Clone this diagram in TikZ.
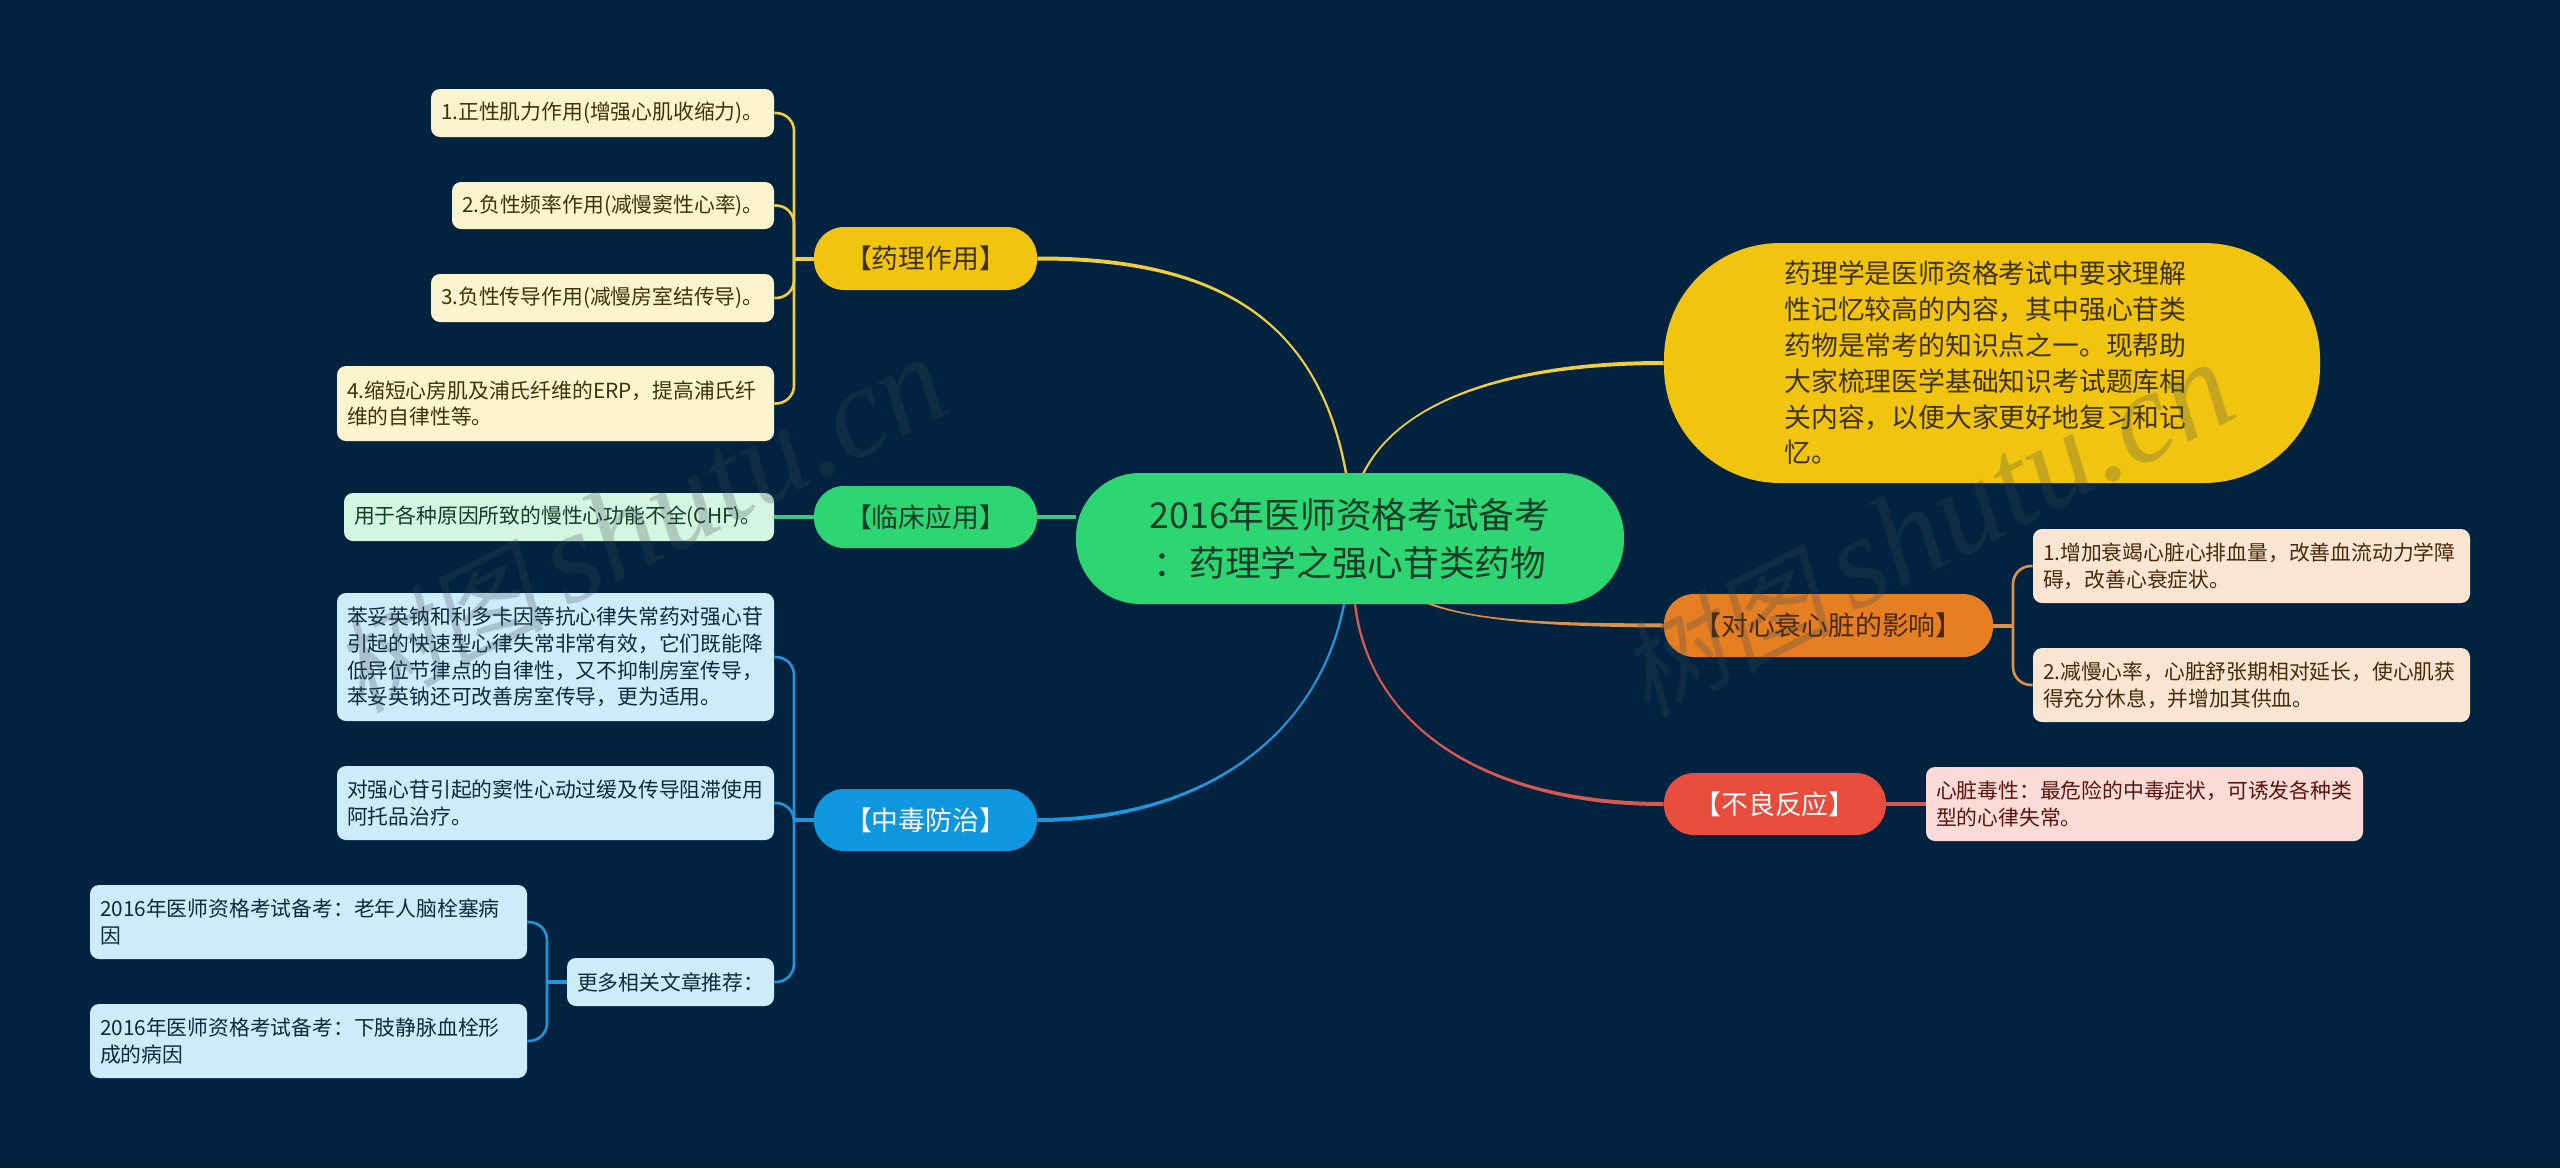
\documentclass[tikz,border=0pt]{standalone}
\usepackage{fontspec}
\setmainfont{Noto Sans CJK SC}
\newfontfamily\wmcjk[FakeSlant=0.2]{Noto Sans CJK SC}
\newfontfamily\wmlat{Liberation Serif}[Ligatures=TeX]
\definecolor{bgc}{HTML}{012340}
\definecolor{wmc}{HTML}{3A4A52}
\definecolor{ycol}{HTML}{F1C40F}\definecolor{yline}{HTML}{F0CE3E}\definecolor{ybox}{HTML}{FCF3CF}\definecolor{ytxt}{HTML}{3E3208}
\definecolor{gcol}{HTML}{2ED573}\definecolor{gline}{HTML}{3CC77F}\definecolor{gbox}{HTML}{D5F5E3}\definecolor{gtxt}{HTML}{123D26}
\definecolor{bcol}{HTML}{0E96DE}\definecolor{bline}{HTML}{1E96DA}\definecolor{bbox}{HTML}{CDEBF9}\definecolor{btxt}{HTML}{0B2A3E}
\definecolor{ocol}{HTML}{E67E22}\definecolor{oline}{HTML}{DE9245}\definecolor{obox}{HTML}{FAE5D3}\definecolor{otxt}{HTML}{47290C}
\definecolor{rcol}{HTML}{E74C3C}\definecolor{rline}{HTML}{D95850}\definecolor{rbox}{HTML}{FADBD8}\definecolor{rtxt}{HTML}{5A140D}
\newcommand{\mmbox}[7]{%
  \pgfmathsetmacro\mmw{(#4-#2)*0.5}%
  \pgfmathsetmacro\mmh{(#5-#3)*0.5}%
  \pgfmathsetmacro\mmt{\mmw-2*\mmpad}%
  \node[#6,minimum width=\mmw pt,minimum height=\mmh pt,text width=\mmt pt,inner xsep=\mmpad pt]
    (#1) at ({(#2+#4)/2},{(#3+#5)/2}) {#7};}
\def\mmpad{5}
\newcommand{\taper}[6]{%
  \fill[#1] ([yshift=1pt]#2) .. controls ([yshift=1pt]#3) and ([xshift=#6]#4) .. ([xshift=#6]#5)
    -- ([xshift=-#6]#5) .. controls ([xshift=-#6]#4) and ([yshift=-1pt]#3) .. ([yshift=-1pt]#2) -- cycle;}
\tikzset{
  leaf/.style={rounded corners=4.5pt,inner ysep=0pt,align=left,font=\fontsize{10.4}{13.35}\selectfont},
  pill/.style={rounded corners=15pt,inner ysep=0pt,align=center,font=\fontsize{13.4}{18}\selectfont},
  stub/.style={line width=2pt},
  branch/.style={line width=1.3pt,rounded corners=9pt},
  wmark/.style={rotate=27,text=wmc,opacity=0.25,inner sep=0pt}
}
\begin{document}
\begin{tikzpicture}[x=0.5pt,y=-0.5pt]
\useasboundingbox[fill=bgc] (0,0) rectangle (2560,1168);
\coordinate (tyL) at (794,0);
\coordinate (tyS) at (547,0);
\coordinate (tyR) at (2013,0);
% branch pills
\mmbox{root}{1076}{473}{1624}{604}{pill,fill=gcol,rounded corners=32pt,text=gtxt,font=\fontsize{17.85}{24}\selectfont}{2016年医师资格考试备考\\：药理学之强心苷类药物}
\mmbox{pyao}{814}{227}{1037}{290}{pill,fill=ycol,text=ytxt}{【药理作用】}
\mmbox{plin}{814}{486}{1037}{548}{pill,fill=gcol,text=gtxt}{【临床应用】}
\mmbox{pzho}{814}{789}{1037}{851}{pill,fill=bcol,text=white}{【中毒防治】}
\mmbox{pxin}{1664}{594}{1993}{657}{pill,fill=ocol,text=otxt}{【对心衰心脏的影响】}
\mmbox{pbul}{1664}{773}{1886}{835}{pill,fill=rcol,text=white}{【不良反应】}
\def\mmpad{60.25}
\mmbox{intro}{1664}{243}{2320}{483}{pill,fill=ycol,rounded corners=58pt,text=ytxt,align=left,font=\fontsize{13.4}{17.9}\selectfont}{药理学是医师资格考试中要求理解\\性记忆较高的内容，其中强心苷类\\药物是常考的知识点之一。现帮助\\大家梳理医学基础知识考试题库相\\关内容，以便大家更好地复习和记\\忆。}
\def\mmpad{5}
% leaves
\mmbox{a1}{431}{89}{774}{137}{leaf,fill=ybox,text=ytxt}{1.正性肌力作用(增强心肌收缩力)。}
\mmbox{a2}{452}{182}{774}{229}{leaf,fill=ybox,text=ytxt}{2.负性频率作用(减慢窦性心率)。}
\mmbox{a3}{431}{274}{774}{322}{leaf,fill=ybox,text=ytxt}{3.负性传导作用(减慢房室结传导)。}
\mmbox{a4}{337}{366}{774}{441}{leaf,fill=ybox,text=ytxt}{4.缩短心房肌及浦氏纤维的ERP，提高浦氏纤\\维的自律性等。}
\mmbox{c1}{344}{493}{774}{541}{leaf,fill=gbox,text=gtxt}{用于各种原因所致的慢性心功能不全(CHF)。}
\mmbox{d1}{337}{593}{774}{721}{leaf,fill=bbox,text=btxt}{苯妥英钠和利多卡因等抗心律失常药对强心苷\\引起的快速型心律失常非常有效，它们既能降\\低异位节律点的自律性，又不抑制房室传导，\\苯妥英钠还可改善房室传导，更为适用。}
\mmbox{d2}{337}{766}{774}{840}{leaf,fill=bbox,text=btxt}{对强心苷引起的窦性心动过缓及传导阻滞使用\\阿托品治疗。}
\mmbox{d3}{567}{958}{774}{1006}{leaf,fill=bbox,text=btxt}{更多相关文章推荐：}
\mmbox{e1}{90}{885}{527}{959}{leaf,fill=bbox,text=btxt}{2016年医师资格考试备考：老年人脑栓塞病\\因}
\mmbox{e2}{90}{1004}{527}{1078}{leaf,fill=bbox,text=btxt}{2016年医师资格考试备考：下肢静脉血栓形\\成的病因}
\mmbox{f1}{2033}{529}{2470}{603}{leaf,fill=obox,text=otxt}{1.增加衰竭心脏心排血量，改善血流动力学障\\碍，改善心衰症状。}
\mmbox{f2}{2033}{648}{2470}{722}{leaf,fill=obox,text=otxt}{2.减慢心率，心脏舒张期相对延长，使心肌获\\得充分休息，并增加其供血。}
\mmbox{g1}{1926}{767}{2363}{841}{leaf,fill=rbox,text=rtxt}{心脏毒性：最危险的中毒症状，可诱发各种类\\型的心律失常。}
% root connectors
\coordinate (ryao) at (1346,473);
\coordinate (rint) at (1363.5,473);
\coordinate (rxin) at (1430,604);
\coordinate (rbul) at (1355,604);
\coordinate (rzho) at (1344,604);
\taper{yline}{pyao.east}{1230,258}{1320,330}{ryao}{0.6pt}
\taper{yline}{intro.west}{1510,363}{1400,400}{rint}{-0.6pt}
\taper{oline}{pxin.west}{1560,625}{1480,622}{rxin}{1.6pt}
\taper{rline}{pbul.west}{1490,804}{1370,730}{rbul}{0.6pt}
\taper{bline}{pzho.east}{1210,820}{1320,730}{rzho}{-0.6pt}
\draw[stub,gline] (plin.east) -- (root.west |- plin.east);
% sub branches
\draw[stub,yline] (pyao.west) -- (tyL |- pyao.west);
\foreach \n in {a1,a2,a3,a4}{\draw[branch,yline] (tyL |- pyao.west) -- (tyL |- \n.east) -- (\n.east);}
\draw[stub,gline] (plin.west) -- (c1.east);
\draw[stub,bline] (pzho.west) -- (tyL |- pzho.west);
\foreach \n in {d1,d2,d3}{\draw[branch,bline] (tyL |- pzho.west) -- (tyL |- \n.east) -- (\n.east);}
\draw[stub,bline] (d3.west) -- (tyS |- d3.west);
\foreach \n in {e1,e2}{\draw[branch,bline] (tyS |- d3.west) -- (tyS |- \n.east) -- (\n.east);}
\draw[stub,oline] (pxin.east) -- (tyR |- pxin.east);
\foreach \n in {f1,f2}{\draw[branch,oline] (tyR |- pxin.east) -- (tyR |- \n.west) -- (\n.west);}
\draw[stub,rline] (pbul.east) -- (g1.west);
% watermarks
\node[wmark] (wm1) at (640,525) {{\wmcjk\fontsize{53}{53}\selectfont 树图}\hspace{10pt}{\wmlat\itshape\fontsize{65}{65}\selectfont shutu.cn}};
\node[wmark] (wm2) at (1926,530) {{\wmcjk\fontsize{53}{53}\selectfont 树图}\hspace{10pt}{\wmlat\itshape\fontsize{65}{65}\selectfont shutu.cn}};
\end{tikzpicture}
\end{document}
